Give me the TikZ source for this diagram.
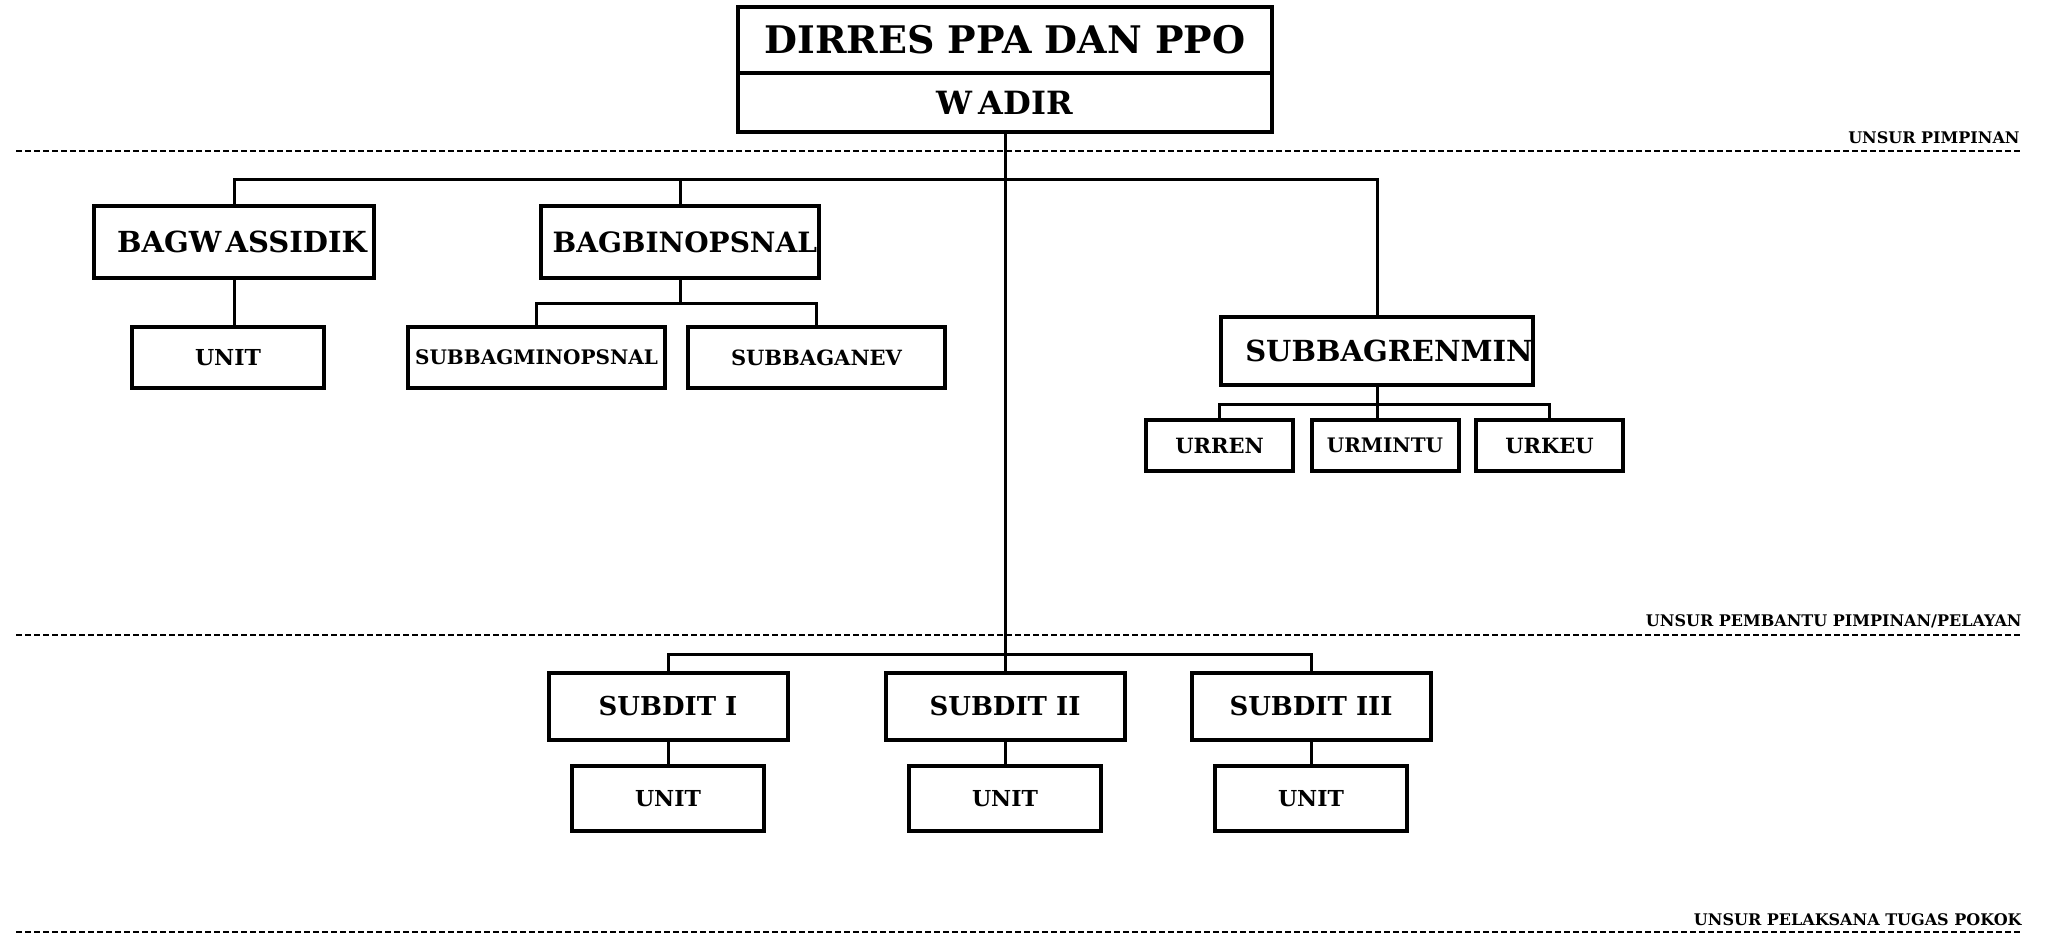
\documentclass[tikz,border=0pt]{standalone}
\usepackage{fontspec}
\setmainfont{DejaVu Serif}
\usetikzlibrary{positioning}

\begin{document}
\begin{tikzpicture}[x=0.5pt, y=-0.5pt,
		box/.style={rectangle, draw=black, line width=2pt, inner sep=0pt, align=center, font=\bfseries},
		link/.style={line width=1.5pt},
		sepline/.style={line width=1pt, dash pattern=on 3pt off 1.5pt},
		unsur/.style={anchor=south east, inner sep=0pt, font=\bfseries\fontsize{8}{9}\selectfont}]
			\useasboundingbox (0,0) rectangle (2046,934);
			% pimpinan
			\node (dir) [box, minimum width=267pt, minimum height=33pt, font=\bfseries\fontsize{19}{22}\selectfont] at (1005,40) {DIRRES PPA DAN PPO};
			\node (wadir) [box, minimum width=267pt, minimum height=29.5pt, font=\bfseries\fontsize{16}{19}\selectfont] at (1005,102.5) {W\hspace{3pt}ADIR};
			% pembantu pimpinan
			\node (bagwas) [box, minimum width=140pt, minimum height=36pt, font=\bfseries\fontsize{14.5}{17}\selectfont] at (234,242) {\hspace{8pt}BAGW\hspace{2pt}ASSIDIK};
			\node (unitwas) [box, minimum width=96pt, minimum height=30.5pt, font=\bfseries\fontsize{11}{13}\selectfont] at (228,357.5) {UNIT};
			\node (bagbin) [box, minimum width=139pt, minimum height=36pt, font=\bfseries\fontsize{14}{17}\selectfont] at (680,242) {\makebox[137pt][r]{BAGBINOPSNAL}};
			\node (subbagmin) [box, minimum width=128.5pt, minimum height=30.5pt, font=\bfseries\fontsize{10}{12}\selectfont] at (536.5,357.5) {SUBBAGMINOPSNAL};
			\node (subbaganev) [box, minimum width=128.5pt, minimum height=30.5pt, font=\bfseries\fontsize{10.5}{12}\selectfont] at (816.5,357.5) {SUBBAGANEV};
			\node (subbagren) [box, minimum width=152pt, minimum height=34pt, font=\bfseries\fontsize{14.5}{17}\selectfont] at (1377,351) {\hspace{12pt}SUBBAGRENMIN};
			\node (urren) [box, minimum width=73.5pt, minimum height=25.5pt, font=\bfseries\fontsize{10.5}{12}\selectfont] at (1219.5,445.5) {URREN};
			\node (urmintu) [box, minimum width=73.5pt, minimum height=25.5pt, font=\bfseries\fontsize{10}{12}\selectfont] at (1385,445.5) {URMINTU};
			\node (urkeu) [box, minimum width=73.5pt, minimum height=25.5pt, font=\bfseries\fontsize{10.5}{12}\selectfont] at (1549.5,445.5) {URKEU};
			% pelaksana tugas pokok
			\node (subdit1) [box, minimum width=119.5pt, minimum height=33.5pt, font=\bfseries\fontsize{13}{15}\selectfont] at (668,706.5) {SUBDIT I};
			\node (subdit2) [box, minimum width=119.5pt, minimum height=33.5pt, font=\bfseries\fontsize{13}{15}\selectfont] at (1005,706.5) {SUBDIT II};
			\node (subdit3) [box, minimum width=119.5pt, minimum height=33.5pt, font=\bfseries\fontsize{13}{15}\selectfont] at (1311,706.5) {SUBDIT III};
			\node (unit1) [box, minimum width=96pt, minimum height=32.5pt, font=\bfseries\fontsize{11}{13}\selectfont] at (668,798.5) {UNIT};
			\node (unit2) [box, minimum width=96pt, minimum height=32.5pt, font=\bfseries\fontsize{11}{13}\selectfont] at (1005,798.5) {UNIT};
			\node (unit3) [box, minimum width=96pt, minimum height=32.5pt, font=\bfseries\fontsize{11}{13}\selectfont] at (1311,798.5) {UNIT};
			\coordinate (topbar) at (1005,179);
			\coordinate (binbar) at (680,303);
			\coordinate (renbar) at (1377,404);
			\coordinate (ditbar) at (1005,654);
			\draw[link] (wadir.south) -- (subdit2.north);
			\draw[link] (bagwas.north) |- (topbar) -| (subbagren.north);
			\draw[link] (bagbin.north) -- (bagbin.north |- topbar);
			\draw[link] (bagwas.south) -- (unitwas.north -| bagwas.south);
			\draw[link] (bagbin.south) -- (binbar);
			\draw[link] (subbagmin.north) |- (binbar) -| (subbaganev.north);
			\draw[link] (subbagren.south) -- (urmintu.north -| subbagren.south);
			\draw[link] (urren.north) |- (renbar) -| (urkeu.north);
			\draw[link] (subdit1.north) |- (ditbar) -| (subdit3.north);
			\draw[link] (subdit1.south) -- (unit1.north);
			\draw[link] (subdit2.south) -- (unit2.north);
			\draw[link] (subdit3.south) -- (unit3.north);
			% garis unsur
			\draw[sepline] (16,151) -- (2022,151);
			\draw[sepline] (16,635) -- (2022,635);
			\draw[sepline] (16,932) -- (2022,932);
			\node (lblpim) [unsur] at (2020,144) {UNSUR PIMPINAN};
			\node (lblpem) [unsur] at (2022,628) {UNSUR PEMBANTU PIMPINAN/PELAYAN};
			\node (lblpel) [unsur] at (2022,926) {UNSUR PELAKSANA TUGAS POKOK};
		\end{tikzpicture}
\end{document}
